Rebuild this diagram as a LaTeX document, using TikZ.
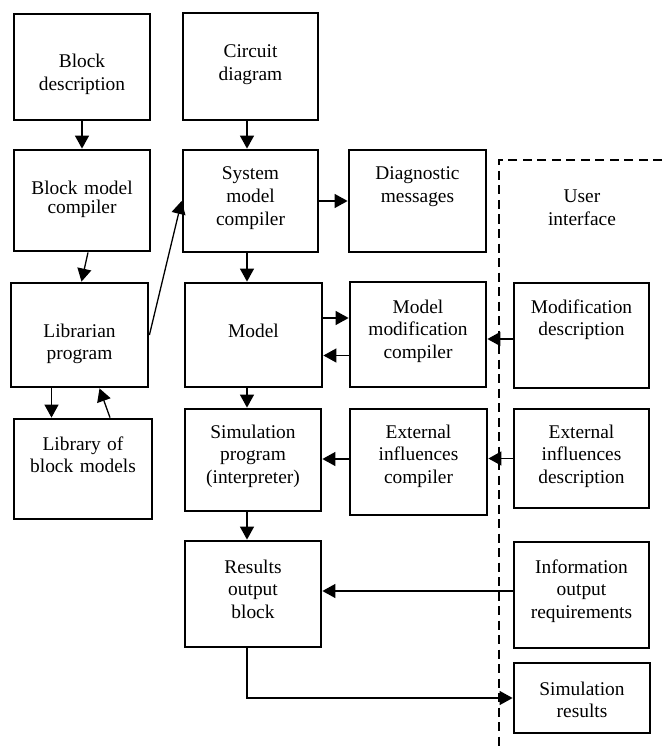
\documentclass[tikz,border=0pt]{standalone}
\usepackage{fontspec}
\setmainfont{Liberation Serif}
\usetikzlibrary{arrows.meta}
\tikzset{
  blk/.style n args={3}{draw, line width=2.8pt, inner sep=0pt, align=center,
    text width=124pt, minimum width=#1, minimum height=#2,
    text height=#3, text depth=#2-#3},
  arr/.style={-{Triangle[length=13pt,width=14pt]}, line width=1.3pt},
}
\begin{document}
\begin{tikzpicture}[x=1pt,y=-1pt,font=\fontsize{19.4}{22.8}\selectfont]
            \useasboundingbox (0,0) rectangle (662,751);
            % left column
            \node[blk={136}{106}{54}] (bdesc) at (82,67) {Block\\description};
            \node[blk={136}{101}{45}] (bmc) at (82,200.5) {Block model\\[-4pt]compiler};
            \node[blk={137}{104}{54}] (libr) at (79.5,335) {Librarian\\program};
            \node[blk={138}{100}{31}] (blib) at (83,469) {Library of\\block models};
            % middle column
            \node[blk={135}{107}{45}] (circ) at (250.5,66.5) {Circuit\\diagram};
            \node[blk={135}{102}{30}] (smc) at (250.5,201) {System\\model\\compiler};
            \node[blk={137}{104}{54}] (model) at (253.5,335) {Model};
            \node[blk={136}{102}{29}] (sim) at (253,460) {Simulation\\program\\(interpreter)};
            \node[blk={136}{106}{32}] (res) at (253,594) {Results\\output\\block};
            % compilers
            \node[blk={137}{102}{30}] (diag) at (417.5,201) {Diagnostic\\messages};
            \node[blk={136}{105}{31}] (mmc) at (418,334.5) {Model\\modification\\compiler};
            \node[blk={137}{106}{29}] (eic) at (418.5,462) {External\\influences\\compiler};
            % user interface
            \draw [line width=2.8pt, dash pattern=on 9pt off 5.5pt] (662,160) -- (499,160) -- (499,751);
            \node[align=center, text width=124pt, inner sep=0pt, anchor=base] (ui) at (582,203) {User\\interface};
            \node[blk={135}{105}{30}] (moddesc) at (581.5,335.5) {Modification\\description};
            \node[blk={135}{99}{29}] (eid) at (581.5,458.5) {External\\influences\\description};
            \node[blk={135}{106}{31}] (ior) at (581.5,595) {Information\\output\\requirements};
            \node[blk={136}{70}{32}] (simres) at (582,698) {Simulation\\results};

            \draw[arr] (bdesc) -- (bmc);
            \draw[arr] ([xshift=6pt]bmc.south) -- ([xshift=2pt]libr.north);
            \draw[arr] ([xshift=-28pt]libr.south) -- ([xshift=-28pt]libr.south |- blib.north);
            \draw[arr] ([xshift=27pt]blib.north) -- ([xshift=20pt]libr.south);
            \draw[arr] (libr.east) -- (smc.west);
            \draw[arr] ([xshift=-3.5pt]circ.south) -- ([xshift=-3.5pt]smc.north);
            \draw[arr] (smc) -- (diag);
            \draw[arr] ([xshift=-3.5pt]smc.south) -- ([xshift=-6.5pt]model.north);
            \draw[arr] ([yshift=17pt]model.east) -- ([yshift=17pt]model.east -| mmc.west);
            \draw[arr] ([yshift=-21pt]mmc.west) -- ([yshift=-21pt]mmc.west -| model.east);
            \draw[arr] ([yshift=-3.5pt]moddesc.west) -- ([yshift=-3.5pt]moddesc.west -| mmc.east);
            \draw[arr] ([xshift=-6.5pt]model.south) -- ([xshift=-6pt]sim.north);
            \draw[arr] ([yshift=3pt]eic.west) -- ([yshift=3pt]eic.west -| sim.east);
            \draw[arr] (eid.west) -- (eid.west -| eic.east);
            \draw[arr] ([xshift=-6pt]sim.south) -- ([xshift=-6pt]res.north);
            \draw[arr] ([yshift=4pt]ior.west) -- ([yshift=4pt]ior.west -| res.east);
            \draw[arr] ([xshift=-6pt]res.south) |- (simres.west);
        \end{tikzpicture}
\end{document}
